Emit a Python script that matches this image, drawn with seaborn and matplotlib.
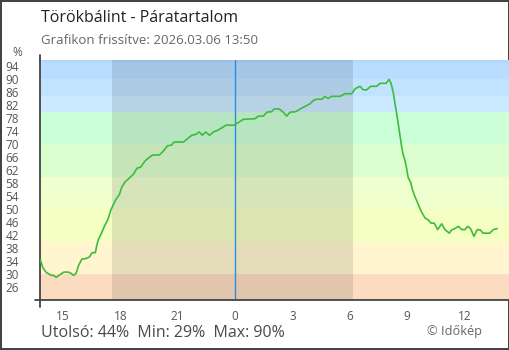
import matplotlib
matplotlib.use("Agg")
import matplotlib.pyplot as plt
import numpy as np
import pandas as pd
import seaborn as sns

# Relative humidity over the last 24 hours; time in hours relative to midnight of 2026-03-06
hours = [-10.17, -10.05, -9.87, -9.61, -9.49, -9.35, -9.18, -8.95, -8.71, -8.57,
         -8.45, -8.31, -8.19, -8.01, -7.78, -7.61, -7.47, -7.30, -7.23, -7.14,
         -7.00, -6.83, -6.65, -6.48, -6.25, -6.04, -5.92, -5.75, -5.49, -5.31,
         -5.13, -4.93, -4.70, -4.44, -4.30, -3.96, -3.75, -3.54, -3.31, -3.19,
         -2.70, -2.49, -2.26, -2.04, -1.87, -1.71, -1.53, -1.34, -1.13, -0.92,
         -0.69, -0.47, -0.05, 0.17, 0.43, 1.04, 1.22, 1.48, 1.66, 1.92,
         2.04, 2.31, 2.52, 2.70, 2.87, 3.19, 3.40, 3.66, 3.92, 4.09,
         4.23, 4.53, 4.70, 4.87, 5.05, 5.49, 5.75, 6.10, 6.27, 6.53,
         6.70, 6.88, 7.09, 7.40, 7.58, 7.89, 8.05, 8.15, 8.27, 8.36,
         8.45, 8.53, 8.62, 8.71, 8.79, 8.88, 8.97, 9.05, 9.18, 9.28,
         9.40, 9.52, 9.63, 9.75, 9.93, 10.10, 10.24, 10.41, 10.59, 10.80,
         10.97, 11.20, 11.32, 11.49, 11.67, 11.85, 12.02, 12.16, 12.31, 12.49,
         12.66, 12.82, 12.96, 13.31, 13.50, 13.70]
humidity = [34.3, 32.0, 30.5, 29.6, 29.6, 29.0, 29.7, 30.6, 30.6, 30.2,
            29.6, 30.2, 32.5, 34.6, 34.8, 35.3, 36.6, 36.6, 38.8, 40.7,
            42.4, 44.7, 46.8, 49.9, 52.8, 54.6, 56.8, 58.4, 59.8, 60.8,
            62.6, 63.0, 64.9, 66.2, 66.7, 66.7, 67.9, 69.5, 69.8, 70.7,
            70.7, 71.7, 72.8, 73.1, 73.8, 72.8, 73.8, 72.8, 73.8, 74.3,
            75.1, 75.9, 75.9, 76.7, 77.7, 77.9, 78.7, 78.7, 79.9, 80.1,
            80.9, 80.9, 79.9, 78.7, 79.9, 80.1, 80.9, 81.7, 82.5, 83.5,
            83.9, 83.9, 84.7, 84.2, 84.8, 84.8, 85.6, 85.6, 87.1, 87.9,
            86.8, 86.8, 87.9, 87.9, 88.8, 88.8, 90.0, 88.9, 86.0, 82.5,
            79.4, 76.3, 72.8, 69.2, 66.8, 65.1, 62.5, 59.7, 58.3, 55.9,
            53.9, 52.3, 50.7, 49.1, 47.3, 46.7, 45.7, 45.7, 43.7, 45.5,
            43.7, 42.6, 43.6, 44.0, 44.7, 43.7, 43.7, 44.7, 44.0, 41.6,
            43.7, 43.6, 42.6, 42.6, 43.7, 44.0]

# Colour bands behind the curve (humidity ranges)
band_edges = [22, 30, 40, 50, 60, 70, 80, 85, 90, 95, 96]
band_colors = ["#fbdcc0", "#fff6cf", "#f6ffc3", "#efffce", "#dcffcf",
               "#ccffd7", "#cceaff", "#c2e3ff", "#b9ddff", "#b2d8fb"]

tick_hours = [-9, -6, -3, 0, 3, 6, 9, 12]
tick_labels = ["15", "18", "21", "0", "3", "6", "9", "12"]
y_ticks = list(range(22, 95, 4))

night_start, night_end = -6.44, 6.18
x_range = (-10.17, 14.32)

title = "Törökbálint - Páratartalom"
subtitle = "Grafikon frissítve: 2026.03.06 13:50"

df = pd.DataFrame({"hour": hours, "humidity": humidity})
last_val = humidity[-1]
min_val = min(humidity)
max_val = max(humidity)

sns.set_theme(style="white")
plt.rcParams["font.family"] = ["Open Sans", "DejaVu Sans"]

fig = plt.figure(figsize=(5.1, 3.5), dpi=100)
fig.patch.set_facecolor("white")
fig.patch.set_edgecolor("#444444")
fig.patch.set_linewidth(1.5)

ax = fig.add_axes([40.5 / 510, 50 / 350, 468.5 / 510, 240 / 350])

for lo, hi, c in zip(band_edges[:-1], band_edges[1:], band_colors):
    ax.axhspan(lo, hi, color=c, lw=0, zorder=0)

ax.axvspan(night_start, night_end, color="black", alpha=0.1, lw=0, zorder=1)
ax.axvline(0, color="#2b8fdf", lw=1.0, zorder=2)

sns.lineplot(data=df, x="hour", y="humidity", ax=ax, color="#3bbd3b",
             lw=1.2, zorder=3, legend=False)

ax.set_xlim(*x_range)
ax.set_ylim(22, 96)
ax.set_xlabel("")
ax.set_ylabel("")

ax.set_xticks(tick_hours)
ax.set_xticklabels(tick_labels)
ax.set_yticks(y_ticks)
ax.set_yticklabels([""] + [str(v) for v in y_ticks[1:]])

for s in ["top", "right"]:
    ax.spines[s].set_visible(False)
for s in ["left", "bottom"]:
    ax.spines[s].set_color("#444444")
    ax.spines[s].set_linewidth(1.3)

ax.tick_params(axis="both", direction="inout", length=9, width=1.2,
               color="#444444", labelcolor="#555555", labelsize=8.5)
ax.tick_params(axis="y", pad=11)
ax.tick_params(axis="x", pad=3)

# extend axis lines slightly past the corner
ax.plot([-0.0125, 0], [0, 0], transform=ax.transAxes, color="#444444",
        lw=1.3, clip_on=False)
ax.plot([0, 0], [-0.03, 0], transform=ax.transAxes, color="#444444",
        lw=1.3, clip_on=False)
ax.plot([0, 0], [1, 1.02], transform=ax.transAxes, color="#444444",
        lw=1.3, clip_on=False)

fig.text(41 / 510, 1 - 18 / 350, title, fontsize=11.5, color="#222222",
         va="center", ha="left")
fig.text(41 / 510, 1 - 40 / 350, subtitle, fontsize=9.5, color="#666666",
         va="center", ha="left")
fig.text(17 / 510, 1 - 52 / 350, "%", fontsize=8.5, color="#555555",
         va="center", ha="center")

fig.text(41 / 510, 1 - 333 / 350,
         f"Utolsó: {last_val:.0f}%  Min: {min_val:.0f}%  Max: {max_val:.0f}%",
         fontsize=11.5, color="#4a4a4a", va="center", ha="left")
fig.text(482 / 510, 1 - 331 / 350, "© Időkép", fontsize=9.2, color="#666666",
         va="center", ha="right")

fig.savefig("out.png", dpi=100, facecolor=fig.get_facecolor(),
            edgecolor=fig.get_edgecolor())
